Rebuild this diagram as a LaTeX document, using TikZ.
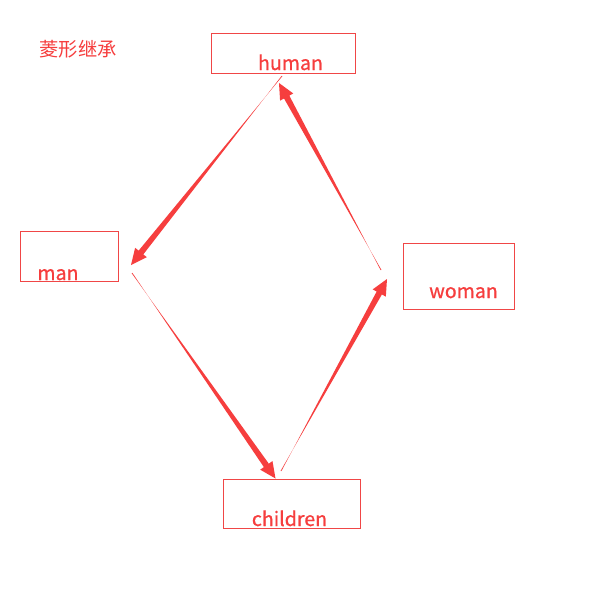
\documentclass[tikz,border=0pt]{standalone}
\usepackage{fontspec}
\setmainfont{Noto Sans CJK SC}
\newfontfamily\labelfont[FakeBold=0.8]{Noto Sans CJK SC}
\usepackage{tikz}
\usetikzlibrary{calc}
\definecolor{mainred}{RGB}{246,62,62}
\definecolor{boxred}{RGB}{240,70,70}
\tikzset{
  cbox/.style={draw=boxred,line width=0.9pt},
  cname/.style={anchor=base,inner sep=0pt,text=mainred,font=\labelfont\fontsize{19.6}{22}\selectfont},
  ctitle/.style={anchor=base,inner sep=0pt,text=mainred,font=\fontsize{19.3}{22}\selectfont},
  taper/.style={fill=mainred,draw=none}
}
% tapered arrow: thin tail, thick neck, filled head
\newcommand{\taperarrow}[2]{%
  \path ($(#2)!16pt!(#1)$) coordinate (neck);
  \fill[taper] ($(#1)!0.4pt!90:(#2)$) -- ($(neck)!3pt!-90:(#2)$) -- ($(neck)!7.5pt!-90:(#2)$)
    -- (#2) -- ($(neck)!7.5pt!90:(#2)$) -- ($(neck)!3pt!90:(#2)$) -- ($(#1)!0.4pt!-90:(#2)$) -- cycle;}

\begin{document}
\begin{tikzpicture}[x=1pt,y=-1pt]
  \useasboundingbox[fill=white] (0,0) rectangle (604,597);
  \node[ctitle] (title) at (78,56) {菱形继承};

  % boxes
  \draw[cbox] (211,33) rectangle (355,73);
  \node[inner sep=0pt] (human) at (283,53) {};
  \draw[cbox] (20,231) rectangle (118,281);
  \node[inner sep=0pt] (man) at (69,256) {};
  \draw[cbox] (403,243) rectangle (514,309);
  \node[inner sep=0pt] (woman) at (458.5,276) {};
  \draw[cbox] (223,479) rectangle (360,528);
  \node[inner sep=0pt] (children) at (291.5,503.5) {};

  % labels
  \node[cname] (humanlabel) at (290.5,70) {human};
  \node[cname] (manlabel) at (58,280) {man};
  \node[cname] (womanlabel) at (463.5,298) {woman};
  \node[cname] (childrenlabel) at (289.5,526) {children};

  % arrow ends
  \coordinate (h-out) at (282,76);
  \coordinate (m-in) at (131,265);
  \coordinate (m-out) at (132,273);
  \coordinate (c-in) at (275.5,478.5);
  \coordinate (c-out) at (281,471);
  \coordinate (w-in) at (387,279);
  \coordinate (w-out) at (381,270);
  \coordinate (h-in) at (279,83);

  \taperarrow{h-out}{m-in}
  \taperarrow{m-out}{c-in}
  \taperarrow{c-out}{w-in}
  \taperarrow{w-out}{h-in}
\end{tikzpicture}
\end{document}
